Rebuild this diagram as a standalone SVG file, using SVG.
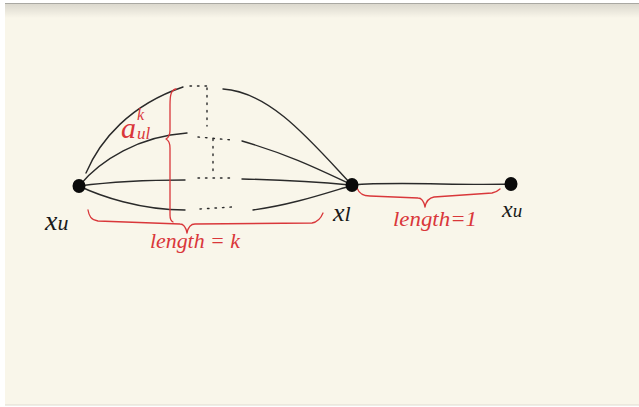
<svg xmlns="http://www.w3.org/2000/svg" width="639" height="407" viewBox="0 0 639 407">
<defs>
<linearGradient id="topg" x1="0" y1="0" x2="0" y2="1">
<stop offset="0" stop-color="#d9d6cc"/>
<stop offset="1" stop-color="#f9f6ea"/>
</linearGradient>
<style>
.edge{fill:none;stroke:#2a2a2a;stroke-width:1.4;stroke-linecap:round}
.dot{fill:none;stroke:#2a2a2a;stroke-width:1.4;stroke-linecap:round;stroke-dasharray:1.5 6}
.brace{fill:none;stroke:#d9373a;stroke-width:1.3;stroke-linecap:round;stroke-linejoin:round}
.node{fill:#0a0a0a}
.lbl{font-family:"Liberation Serif",serif;font-style:italic;fill:#1a1a1a}
.red{font-family:"Liberation Serif",serif;font-style:italic;fill:#d9373a}
</style>
</defs>
<rect x="0" y="0" width="639" height="407" fill="#ffffff"/>
<rect x="5" y="3" width="634" height="402" fill="#f9f6ea"/>
<rect x="5" y="3" width="634" height="15" fill="url(#topg)"/>
<line x1="5" y1="3.5" x2="639" y2="3.5" stroke="#a9a8a2" stroke-width="1"/>
<line x1="5" y1="405" x2="639" y2="405" stroke="#dedbd0" stroke-width="1"/>

<g id="connectors">
<path class="edge" d="M86,173 C100,140 130,105 183,87"/>
<path class="dot" d="M190,86 L210,86"/>
<path class="edge" d="M223,89 C270,92 310,140 350,183"/>
<path class="edge" d="M79,186 C100,160 140,136 187,133"/>
<path class="dot" d="M198,137 L232,140"/>
<path class="edge" d="M242,141 C290,155 320,170 350,184"/>
<path class="edge" d="M79,186 C110,182 150,180 185,180"/>
<path class="dot" d="M198,178 L230,178"/>
<path class="edge" d="M242,179 C290,180 320,182 350,185"/>
<path class="edge" d="M79,186 C100,196 140,210 185,210"/>
<path class="dot" d="M200,209 L232,207"/>
<path class="edge" d="M253,210 C290,205 320,195 350,186"/>
<path class="dot" d="M207,88 L207,126"/>
<path class="dot" d="M213,139 L213,172"/>
<path class="edge" d="M352,185 C400,181 460,186 511,184"/>
</g>

<g id="brace-vertical">
<path class="brace" d="M176,89 C171,90 170,95 170,105 L170,130 C170,136 168,138 166,139 C168,140 170,142 170,148 L170,215 C170,219 171,221 173,222"/>
</g>
<g id="brace-k">
<path class="brace" d="M88,210 C89,216 91,220 98,221 L180,224 C184,224 186,228 187,233 C188,228 190,224 195,224 L312,223 C318,222 321,218 323,213"/>
</g>
<g id="brace-1">
<path class="brace" d="M357,188 C359,193 362,196 370,196 L418,198 C422,198 424,202 425,207 C426,202 428,198 434,197 L492,193 C496,192 499,190 500,189"/>
</g>

<g id="label-a">
<text class="red" x="121" y="138" font-size="30">a</text>
<text class="red" x="137" y="139" font-size="17">ul</text>
<text class="red" x="137" y="120" font-size="16">k</text>
</g>
<text class="red" x="150" y="248" font-size="20" textLength="90" lengthAdjust="spacingAndGlyphs">length = k</text>
<text class="red" x="393" y="226" font-size="20" textLength="84" lengthAdjust="spacingAndGlyphs">length=1</text>

<g id="node-xu-left">
<ellipse class="node" cx="79" cy="186" rx="6.5" ry="7"/>
<text class="lbl" x="45" y="230" font-size="28">x<tspan font-size="22">u</tspan></text>
</g>
<g id="node-xl">
<ellipse class="node" cx="352" cy="185" rx="6.5" ry="7"/>
<text class="lbl" x="333" y="221" font-size="26">x<tspan font-size="22">l</tspan></text>
</g>
<g id="node-xu-right">
<ellipse class="node" cx="511" cy="184" rx="6.5" ry="7"/>
<text class="lbl" x="502" y="217" font-size="24">x<tspan font-size="19">u</tspan></text>
</g>
</svg>
